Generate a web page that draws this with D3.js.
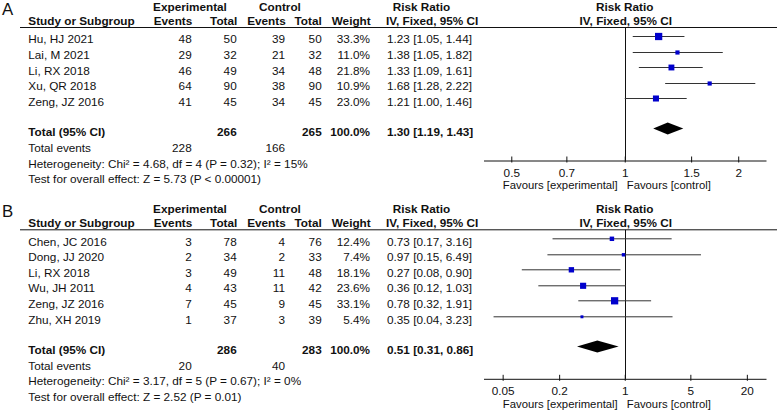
<!DOCTYPE html>
<html>
<head>
<meta charset="utf-8">
<script src="https://cdn.jsdelivr.net/npm/d3@7"></script>
<style>
  body { margin: 0; background: #fff; }
  svg { display: block; font-family: "Liberation Sans", Arial, sans-serif; }
</style>
</head>
<body>
<svg id="chart"></svg>
<script>
// panel A data
const studiesA = ["Hu, HJ 2021", "Lai, M 2021", "Li, RX 2018", "Xu, QR 2018", "Zeng, JZ 2016"];
const expEventsA = [48, 29, 46, 64, 41];
const expTotalA = [50, 32, 49, 90, 45];
const ctrlEventsA = [39, 21, 34, 38, 34];
const ctrlTotalA = [50, 32, 48, 90, 45];
const weightA = [33.3, 11.0, 21.8, 10.9, 23.0];
const rrA = [1.23, 1.38, 1.33, 1.68, 1.21];
const lowA = [1.05, 1.05, 1.09, 1.28, 1.00];
const highA = [1.44, 1.82, 1.61, 2.22, 1.46];
const pooledA = [1.30, 1.19, 1.43];
const totalsA = [266, 265];
const eventsSumA = [228, 166];
const hetA = "Heterogeneity: Chi² = 4.68, df = 4 (P = 0.32); I² = 15%";
const testA = "Test for overall effect: Z = 5.73 (P < 0.00001)";
const ticksA = [0.5, 0.7, 1, 1.5, 2];
const tickLabelsA = ["0.5", "0.7", "1", "1.5", "2"];

// panel B data
const studiesB = ["Chen, JC 2016", "Dong, JJ 2020", "Li, RX 2018", "Wu, JH 2011", "Zeng, JZ 2016", "Zhu, XH 2019"];
const expEventsB = [3, 2, 3, 4, 7, 1];
const expTotalB = [78, 34, 49, 43, 45, 37];
const ctrlEventsB = [4, 2, 11, 11, 9, 3];
const ctrlTotalB = [76, 33, 48, 42, 45, 39];
const weightB = [12.4, 7.4, 18.1, 23.6, 33.1, 5.4];
const rrB = [0.73, 0.97, 0.27, 0.36, 0.78, 0.35];
const lowB = [0.17, 0.15, 0.08, 0.12, 0.32, 0.04];
const highB = [3.16, 6.49, 0.90, 1.03, 1.91, 3.23];
const pooledB = [0.51, 0.31, 0.86];
const totalsB = [286, 283];
const eventsSumB = [20, 40];
const hetB = "Heterogeneity: Chi² = 3.17, df = 5 (P = 0.67); I² = 0%";
const testB = "Test for overall effect: Z = 2.52 (P = 0.01)";
const ticksB = [0.05, 0.2, 1, 5, 20];
const tickLabelsB = ["0.05", "0.2", "1", "5", "20"];

const width = 777;
const height = 412;
const fontSize = 11.75;

let svg = d3.select("#chart").attr("width", width).attr("height", height);
svg.append("rect").attr("width", width).attr("height", height).attr("fill", "#fff");

let fmtRR = (v) => d3.format(".2f")(v);
let ciText = (r, l, h) => fmtRR(r) + " [" + fmtRR(l) + ", " + fmtRR(h) + "]";

let sizeScale = d3.scaleSqrt().domain([0, 100]).range([0, 12.6]);

let addText = (g, x, y, txt, anchor, bold) => {
  return g.append("text")
    .attr("x", x)
    .attr("y", y)
    .attr("text-anchor", anchor || "start")
    .attr("font-size", fontSize)
    .attr("font-weight", bold ? "bold" : "normal")
    .attr("fill", "#111")
    .text(txt);
};

let drawPanel = (p) => {
  let g = svg.append("g").attr("transform", "translate(0," + p.offset + ")");
  let n = p.studies.length;

  let rowY = d3.scaleLinear().domain([0, 1]).range([43.4, 59]);
  let totalY = rowY(n - 1) + 30.5;
  let axisY = Math.round(totalY + 23.8) + 0.5;

  let x = d3.scaleLog().domain([1 / p.span, p.span]).range([483.5, 766]);

  // panel letter
  g.append("text").attr("x", 2).attr("y", 15).attr("font-size", 16.8).attr("fill", "#111").text(p.letter);

  // headers
  addText(g, 190, 11, "Experimental", "middle", true);
  addText(g, 280, 11, "Control", "middle", true);
  addText(g, 421.5, 11, "Risk Ratio", "middle", true);
  addText(g, x(1), 11, "Risk Ratio", "middle", true);
  addText(g, 28.3, 24.5, "Study or Subgroup", "start", true);
  addText(g, 192.3, 24.5, "Events", "end", true);
  addText(g, 237.3, 24.5, "Total", "end", true);
  addText(g, 285.7, 24.5, "Events", "end", true);
  addText(g, 321.7, 24.5, "Total", "end", true);
  addText(g, 370.7, 24.5, "Weight", "end", true);
  addText(g, 386, 24.5, "IV, Fixed, 95% CI", "start", true);
  addText(g, x(1) + 1, 24.5, "IV, Fixed, 95% CI", "middle", true);

  g.append("line")
    .attr("x1", 20).attr("x2", width)
    .attr("y1", 27.5).attr("y2", 27.5)
    .attr("stroke", "#111").attr("stroke-width", 1);

  // study rows
  p.studies.forEach((s, i) => {
    let y = rowY(i);
    addText(g, 28.3, y, s, "start");
    addText(g, 191.7, y, p.expEvents[i], "end");
    addText(g, 236.7, y, p.expTotal[i], "end");
    addText(g, 285, y, p.ctrlEvents[i], "end");
    addText(g, 321.7, y, p.ctrlTotal[i], "end");
    addText(g, 370, y, d3.format(".1f")(p.weight[i]) + "%", "end");
    addText(g, 387, y, ciText(p.rr[i], p.low[i], p.high[i]), "start");
  });

  // totals
  addText(g, 28.3, totalY, "Total (95% CI)", "start", true);
  addText(g, 236.7, totalY, p.totals[0], "end", true);
  addText(g, 321.7, totalY, p.totals[1], "end", true);
  addText(g, 370, totalY, "100.0%", "end", true);
  addText(g, 387, totalY, ciText(p.pooled[0], p.pooled[1], p.pooled[2]), "start", true);
  addText(g, 28.3, totalY + 15.5, "Total events", "start");
  addText(g, 191.7, totalY + 15.5, p.eventsSum[0], "end");
  addText(g, 285, totalY + 15.5, p.eventsSum[1], "end");
  addText(g, 28.3, totalY + 31.3, p.het, "start");
  addText(g, 28.3, totalY + 47, p.test, "start");

  // line of no effect
  g.append("line")
    .attr("x1", Math.round(x(1)) + 0.5).attr("x2", Math.round(x(1)) + 0.5)
    .attr("y1", 27.5).attr("y2", axisY)
    .attr("stroke", "#111").attr("stroke-width", 1);

  // confidence intervals and squares
  let markY = (i) => rowY(i) - 7.5;
  g.selectAll(".ci")
    .data(p.studies)
    .enter()
    .append("line")
    .attr("class", "ci")
    .attr("x1", (d, i) => x(p.low[i]))
    .attr("x2", (d, i) => x(p.high[i]))
    .attr("y1", (d, i) => Math.round(markY(i)) + 0.5)
    .attr("y2", (d, i) => Math.round(markY(i)) + 0.5)
    .attr("stroke", "#333")
    .attr("stroke-width", 1);

  g.selectAll(".sq")
    .data(p.studies)
    .enter()
    .append("rect")
    .attr("class", "sq")
    .attr("x", (d, i) => x(p.rr[i]) - sizeScale(p.weight[i]) / 2)
    .attr("y", (d, i) => Math.round(markY(i)) + 0.5 - sizeScale(p.weight[i]) / 2)
    .attr("width", (d, i) => sizeScale(p.weight[i]))
    .attr("height", (d, i) => sizeScale(p.weight[i]))
    .attr("fill", "#0000cc");

  // pooled diamond
  let dy = totalY - 7.8;
  let pts = [
    [x(p.pooled[1]), dy],
    [x(p.pooled[0]), dy - 6],
    [x(p.pooled[2]), dy],
    [x(p.pooled[0]), dy + 6]
  ];
  g.append("polygon")
    .attr("points", pts.map((q) => q.join(",")).join(" "))
    .attr("fill", "#000");

  // axis
  let axis = d3.axisBottom(x)
    .tickValues(p.ticks)
    .tickFormat((d, i) => p.tickLabels[i])
    .tickSizeInner(-4)
    .tickSizeOuter(0)
    .tickPadding(7.9);

  let ax = g.append("g")
    .attr("transform", "translate(0," + axisY + ")")
    .call(axis);
  ax.select(".domain").attr("stroke", "#111");
  ax.selectAll(".tick line").attr("y1", 2).attr("y2", -4).attr("stroke", "#111");
  ax.selectAll(".tick text")
    .attr("font-size", fontSize)
    .attr("font-family", "Liberation Sans, Arial, sans-serif")
    .attr("fill", "#111");

  addText(g, x(1) - 7, axisY + 28.8, "Favours [experimental]", "end").attr("font-size", 11.3);
  addText(g, x(1) + 2, axisY + 28.8, "Favours [control]", "start").attr("font-size", 11.3);
};

drawPanel({
  offset: 0, letter: "A", span: 2.37,
  studies: studiesA, expEvents: expEventsA, expTotal: expTotalA,
  ctrlEvents: ctrlEventsA, ctrlTotal: ctrlTotalA, weight: weightA,
  rr: rrA, low: lowA, high: highA, pooled: pooledA, totals: totalsA,
  eventsSum: eventsSumA, het: hetA, test: testA, ticks: ticksA, tickLabels: tickLabelsA
});

drawPanel({
  offset: 202.3, letter: "B", span: 32,
  studies: studiesB, expEvents: expEventsB, expTotal: expTotalB,
  ctrlEvents: ctrlEventsB, ctrlTotal: ctrlTotalB, weight: weightB,
  rr: rrB, low: lowB, high: highB, pooled: pooledB, totals: totalsB,
  eventsSum: eventsSumB, het: hetB, test: testB, ticks: ticksB, tickLabels: tickLabelsB
});
</script>
</body>
</html>
